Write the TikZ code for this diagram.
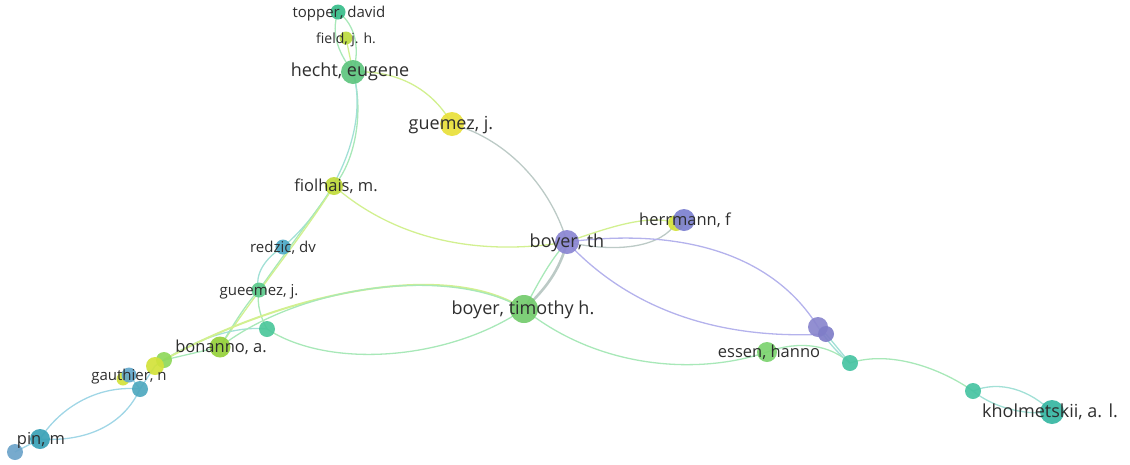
\documentclass[tikz,border=0pt]{standalone}
\usepackage{fontspec}
\setmainfont{Open Sans}
\usetikzlibrary{backgrounds}

\definecolor{labelgray}{HTML}{2E2E2E}
\definecolor{cTopper}{HTML}{37BD8A}
\definecolor{cField}{HTML}{BCDB3C}
\definecolor{cHecht}{HTML}{5DC47E}
\definecolor{cGuemez}{HTML}{E8E03A}
\definecolor{cFiol}{HTML}{C0DA3A}
\definecolor{cRedzic}{HTML}{4CA8C6}
\definecolor{cGueemez}{HTML}{5BC98B}
\definecolor{cTeal}{HTML}{4BC79A}
\definecolor{cBonanno}{HTML}{95D03A}
\definecolor{cYellow}{HTML}{D2E23A}
\definecolor{cGreen}{HTML}{8ED85A}
\definecolor{cGauthier}{HTML}{62A7CB}
\definecolor{cBlueTeal}{HTML}{4EA8BF}
\definecolor{cPin}{HTML}{38A1B6}
\definecolor{cPinB}{HTML}{6BA3C9}
\definecolor{cBoyer}{HTML}{8A85D2}
\definecolor{cHerr}{HTML}{7C80D0}
\definecolor{cTim}{HTML}{73CB6C}
\definecolor{cEssen}{HTML}{7CD36F}
\definecolor{cPurple}{HTML}{8985CD}
\definecolor{cPurpleB}{HTML}{7F7DC8}
\definecolor{cTq}{HTML}{47C3A2}
\definecolor{cKholm}{HTML}{35B6A2}
% 连线颜色
\definecolor{eGreen}{HTML}{A8E8B8}
\definecolor{eTeal}{HTML}{A2E0D6}
\definecolor{eYG}{HTML}{D2F090}
\definecolor{ePurple}{HTML}{B4B2EC}
\definecolor{eGray}{HTML}{BCCAC6}
\definecolor{eBlue}{HTML}{A0D6E6}

\tikzset{
  vdot/.style 2 args={circle, inner sep=0pt, minimum size=#1, fill=#2, fill opacity=0.92},
  lbl/.style={text=labelgray, inner sep=0pt, text height=.72em, text depth=.22em,
    yshift=-3pt, font=\fontsize{#1}{#1}\selectfont},
  link/.style={line width=1.3pt, draw=#1},
}

\begin{document}
\begin{tikzpicture}[x=1pt,y=-1pt]
  \useasboundingbox (0,0) rectangle (1130,464);
  % 节点
  \node[vdot={15}{cTopper}] (topper) at (338,12) {};
  \node[vdot={13}{cField}] (field) at (346,38) {};
  \node[vdot={24}{cHecht}] (hecht) at (353,72) {};
  \node[vdot={24}{cGuemez}] (guemez) at (452,124) {};
  \node[vdot={18}{cFiol}] (fiolhais) at (334,186) {};
  \node[vdot={15}{cRedzic}] (redzic) at (283,247) {};
  \node[vdot={15}{cGueemez}] (gueemez) at (259,290) {};
  \node[vdot={16}{cTeal}] (tealA) at (267,329) {};
  \node[vdot={21}{cBonanno}] (bonanno) at (220,347) {};
  \node[vdot={16}{cGreen}] (greenA) at (164,360) {};
  \node[vdot={18}{cYellow}] (yellowA) at (155,366) {};
  \node[vdot={13}{cYellow}] (yellowB) at (123,379) {};
  \node[vdot={15}{cGauthier}] (gauthier) at (129,375) {};
  \node[vdot={16}{cBlueTeal}] (blueA) at (140,389) {};
  \node[vdot={20}{cPin}] (pin) at (40,439) {};
  \node[vdot={16}{cPinB}] (pinB) at (15,452) {};
  \node[vdot={24}{cBoyer}] (boyerth) at (567,242) {};
  \node[vdot={16}{cYellow}] (yellowC) at (676,223) {};
  \node[vdot={22}{cHerr}] (herrmann) at (684,220) {};
  \node[vdot={28}{cTim}] (boyertim) at (524,309) {};
  \node[vdot={20}{cEssen}] (essen) at (767,352) {};
  \node[vdot={20}{cPurple}] (purpleA) at (818,327) {};
  \node[vdot={16}{cPurpleB}] (purpleB) at (826,334) {};
  \node[vdot={16}{cTq}] (tqA) at (850,363) {};
  \node[vdot={16}{cTq}] (tqB) at (973,391) {};
  \node[vdot={24}{cKholm}] (kholm) at (1052,412) {};

  % 连线
  \begin{scope}[on background layer]
    \draw[link=eGreen] (topper.center) .. controls (330,35) and (340,55) .. (hecht.center);
    \draw[link=eGreen] (topper.center) .. controls (356,25) and (360,50) .. (hecht.center);
    \draw[link=eYG] (field.center) -- (hecht.center);
    \draw[link=eGreen] (hecht.center) .. controls (364,110) and (356,160) .. (fiolhais.center);
    \draw[link=eTeal] (hecht.center) .. controls (370,130) and (332,205) .. (redzic.center);
    \draw[link=eYG] (hecht.center) .. controls (392,70) and (430,85) .. (guemez.center);
    \draw[link=eGreen] (fiolhais.center) .. controls (310,220) and (280,260) .. (gueemez.center);
    \draw[link=eYG] (fiolhais.center) .. controls (300,240) and (250,300) .. (bonanno.center);
    \draw[link=eTeal] (redzic.center) .. controls (265,258) and (254,275) .. (gueemez.center);
    \draw[link=eGreen] (gueemez.center) .. controls (256,305) and (262,320) .. (tealA.center);
    \draw[link=eGreen] (gueemez.center) .. controls (245,305) and (230,330) .. (bonanno.center);
    \draw[link=eTeal] (yellowA.center) .. controls (200,335) and (240,326) .. (tealA.center);
    \draw[link=eGreen] (tealA.center) .. controls (330,370) and (450,360) .. (boyertim.center);
    \draw[link=eYG, line width=2pt] (greenA.center) .. controls (270,300) and (440,255) .. (boyertim.center);
    \draw[link=eGreen] (bonanno.center) .. controls (300,285) and (450,265) .. (boyertim.center);
    \draw[link=eYG] (fiolhais.center) .. controls (390,235) and (470,258) .. (boyerth.center);
    \draw[link=eGray] (guemez.center) .. controls (510,140) and (552,190) .. (boyerth.center);
    \draw[link=eGray, line width=2.6pt] (boyerth.center) .. controls (560,270) and (545,290) .. (boyertim.center);
    \draw[link=eGreen] (boyerth.center) .. controls (548,262) and (535,290) .. (boyertim.center);
    \draw[link=eYG] (boyerth.center) .. controls (612,226) and (650,214) .. (yellowC.center);
    \draw[link=eGray] (boyerth.center) .. controls (620,254) and (662,246) .. (yellowC.center);
    \draw[link=ePurple] (boyerth.center) .. controls (700,225) and (780,265) .. (purpleA.center);
    \draw[link=ePurple] (boyerth.center) .. controls (630,310) and (720,340) .. (purpleB.center);
    \draw[link=eGreen] (boyertim.center) .. controls (600,370) and (700,375) .. (essen.center);
    \draw[link=eGreen] (essen.center) .. controls (800,340) and (830,345) .. (tqA.center);
    \draw[link=eTeal] (purpleB.center) -- (tqA.center);
    \draw[link=eTeal] (purpleA.center) .. controls (830,345) and (840,355) .. (tqA.center);
    \draw[link=eGreen] (tqA.center) .. controls (890,350) and (940,368) .. (tqB.center);
    \draw[link=eTeal] (tqB.center) .. controls (1000,380) and (1030,390) .. (kholm.center);
    \draw[link=eTeal] (tqB.center) .. controls (990,405) and (1020,416) .. (kholm.center);
    \draw[link=eGreen] (bonanno.center) -- (greenA.center);
    \draw[link=eBlue] (yellowA.center) -- (blueA.center);
    \draw[link=eBlue] (gauthier.center) -- (blueA.center);
    \draw[link=eBlue] (blueA.center) .. controls (100,385) and (62,405) .. (pin.center);
    \draw[link=eBlue] (blueA.center) .. controls (122,428) and (82,442) .. (pin.center);
    \draw[link=eBlue] (pin.center) -- (pinB.center);
  \end{scope}

  % 标签
  \node[lbl=15] (topper-lab) at (339,12) {topper, david};
  \node[lbl=14] (field-lab) at (346,38) {field, j. h.};
  \node[lbl=18] (hecht-lab) at (350,71) {hecht, eugene};
  \node[lbl=18] (guemez-lab) at (451,124) {guemez, j.};
  \node[lbl=16.5] (fiolhais-lab) at (336,186) {fiolhais, m.};
  \node[lbl=15] (redzic-lab) at (283,247) {redzic, dv};
  \node[lbl=15] (gueemez-lab) at (259,290) {gueemez, j.};
  \node[lbl=16.5] (bonanno-lab) at (221,347) {bonanno, a.};
  \node[lbl=15] (gauthier-lab) at (129,375) {gauthier, n};
  \node[lbl=16.5] (pin-lab) at (41,439) {pin, m};
  \node[lbl=18] (boyerth-lab) at (567,242) {boyer, th};
  \node[lbl=16.5] (herrmann-lab) at (685,220) {herrmann, f};
  \node[lbl=18] (boyertim-lab) at (523,309) {boyer, timothy h.};
  \node[lbl=16.5] (essen-lab) at (769,352) {essen, hanno};
  \node[lbl=18] (kholm-lab) at (1050,412) {kholmetskii, a. l.};
\end{tikzpicture}
\end{document}
